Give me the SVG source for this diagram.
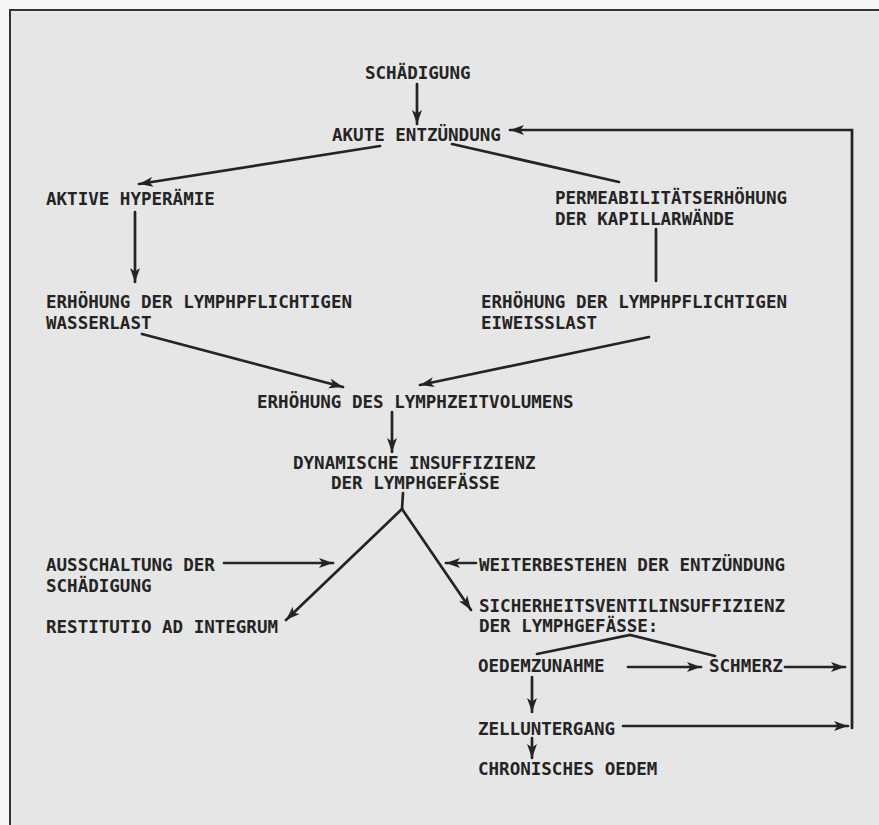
<svg xmlns="http://www.w3.org/2000/svg" width="879" height="825" viewBox="0 0 879 825">
<style>
.t{font-family:"DejaVu Sans Mono","Liberation Mono",monospace;font-weight:bold;font-size:18.5px;fill:#242424}
.c{stroke:#242424;stroke-width:2.7;fill:none;stroke-linecap:round;stroke-linejoin:miter}
.a{marker-end:url(#ah)}
</style>
<defs>
<marker id="ah" markerUnits="userSpaceOnUse" markerWidth="15" markerHeight="11" refX="14" refY="5.5" orient="auto">
<path d="M0,0.5 L14,5.5 L0,10.5 L3.5,5.5 z" fill="#242424"/>
</marker>
</defs>
<rect x="0" y="0" width="879" height="825" fill="#f6f6f6"/>
<rect x="10" y="10" width="869" height="815" fill="#e6e6e6"/>
<g id="frame">
<line x1="9" y1="10" x2="879" y2="10" stroke="#333" stroke-width="2"/>
<line x1="10" y1="9" x2="10" y2="825" stroke="#333" stroke-width="2"/>
</g>
<g id="nodes">
<g id="n_schaedigung"><text class="t" x="365" y="79" textLength="105.5" lengthAdjust="spacingAndGlyphs">SCHÄDIGUNG</text></g>
<g id="n_akute"><text class="t" x="332" y="141" textLength="168.8" lengthAdjust="spacingAndGlyphs">AKUTE ENTZÜNDUNG</text></g>
<g id="n_aktive"><text class="t" x="46" y="205" textLength="168.8" lengthAdjust="spacingAndGlyphs">AKTIVE HYPERÄMIE</text></g>
<g id="n_perm"><text class="t" x="555" y="204" textLength="232" lengthAdjust="spacingAndGlyphs">PERMEABILITÄTSERHÖHUNG</text><text class="t" x="555" y="225" textLength="179.4" lengthAdjust="spacingAndGlyphs">DER KAPILLARWÄNDE</text></g>
<g id="n_wasser"><text class="t" x="46" y="308" textLength="306" lengthAdjust="spacingAndGlyphs">ERHÖHUNG DER LYMPHPFLICHTIGEN</text><text class="t" x="46" y="329" textLength="105.5" lengthAdjust="spacingAndGlyphs">WASSERLAST</text></g>
<g id="n_eiweiss"><text class="t" x="481" y="308" textLength="306" lengthAdjust="spacingAndGlyphs">ERHÖHUNG DER LYMPHPFLICHTIGEN</text><text class="t" x="481" y="329" textLength="116" lengthAdjust="spacingAndGlyphs">EIWEISSLAST</text></g>
<g id="n_lzv"><text class="t" x="257" y="408" textLength="316.5" lengthAdjust="spacingAndGlyphs">ERHÖHUNG DES LYMPHZEITVOLUMENS</text></g>
<g id="n_dyn"><text class="t" x="293" y="469" textLength="242.6" lengthAdjust="spacingAndGlyphs">DYNAMISCHE INSUFFIZIENZ</text><text class="t" x="331" y="489" textLength="168.8" lengthAdjust="spacingAndGlyphs">DER LYMPHGEFÄSSE</text></g>
<g id="n_ausschaltung"><text class="t" x="46" y="571" textLength="168.8" lengthAdjust="spacingAndGlyphs">AUSSCHALTUNG DER</text><text class="t" x="46" y="592" textLength="105.5" lengthAdjust="spacingAndGlyphs">SCHÄDIGUNG</text></g>
<g id="n_weiter"><text class="t" x="479" y="571" textLength="306" lengthAdjust="spacingAndGlyphs">WEITERBESTEHEN DER ENTZÜNDUNG</text></g>
<g id="n_restitutio"><text class="t" x="46" y="633" textLength="232" lengthAdjust="spacingAndGlyphs">RESTITUTIO AD INTEGRUM</text></g>
<g id="n_sicher"><text class="t" x="479" y="612" textLength="306" lengthAdjust="spacingAndGlyphs">SICHERHEITSVENTILINSUFFIZIENZ</text><text class="t" x="479" y="632" textLength="179.4" lengthAdjust="spacingAndGlyphs">DER LYMPHGEFÄSSE:</text></g>
<g id="n_oedem"><text class="t" x="478" y="672" textLength="126.6" lengthAdjust="spacingAndGlyphs">OEDEMZUNAHME</text></g>
<g id="n_schmerz"><text class="t" x="709" y="672" textLength="73.9" lengthAdjust="spacingAndGlyphs">SCHMERZ</text></g>
<g id="n_zell"><text class="t" x="478" y="735" textLength="137" lengthAdjust="spacingAndGlyphs">ZELLUNTERGANG</text></g>
<g id="n_chron"><text class="t" x="478" y="775" textLength="179.4" lengthAdjust="spacingAndGlyphs">CHRONISCHES OEDEM</text></g>
</g>
<g id="connectors">
<line class="c a" x1="417" y1="84" x2="417" y2="124"/>
<line class="c a" x1="380" y1="146" x2="139" y2="184"/>
<line class="c" x1="452" y1="144" x2="619" y2="182"/>
<line class="c a" x1="135" y1="212" x2="135" y2="282"/>
<line class="c" x1="656" y1="229" x2="656" y2="281"/>
<line class="c a" x1="142" y1="334" x2="343" y2="387"/>
<line class="c a" x1="649" y1="337" x2="420" y2="385"/>
<line class="c a" x1="392" y1="412" x2="392" y2="452"/>
<line class="c" x1="403" y1="493" x2="402" y2="509"/>
<line class="c a" x1="402" y1="509" x2="286" y2="620"/>
<line class="c a" x1="402" y1="509" x2="471" y2="610"/>
<line class="c a" x1="224" y1="563" x2="333" y2="563"/>
<line class="c a" x1="476" y1="563" x2="446" y2="563"/>
<polyline class="c" points="537,654 630,635 715,656"/>
<line class="c a" x1="628" y1="667" x2="701" y2="667"/>
<line class="c a" x1="785" y1="667" x2="845" y2="667"/>
<line class="c a" x1="532" y1="677" x2="532" y2="712"/>
<line class="c a" x1="623" y1="726" x2="848" y2="726"/>
<polyline class="c a" points="852,728 852,130 510,130"/>
<line class="c a" x1="532" y1="738" x2="532" y2="758"/>
</g>
</svg>
